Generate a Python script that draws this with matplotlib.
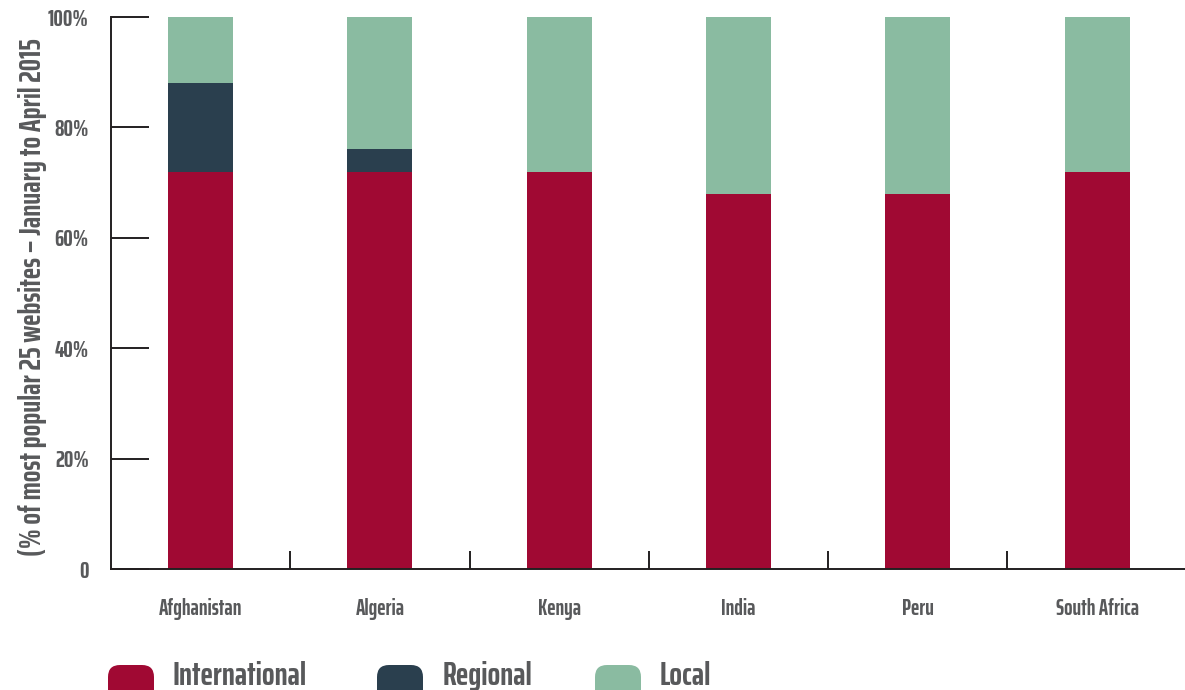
import matplotlib
matplotlib.use("Agg")
import matplotlib.pyplot as plt
import numpy as np
from matplotlib.patches import FancyBboxPatch

# share of the 25 most popular websites, Jan-Apr 2015
countries = ["Afghanistan", "Algeria", "Kenya", "India", "Peru", "South Africa"]
international = [72, 72, 72, 68, 68, 72]
regional = [16, 4, 0, 0, 0, 0]
local = [12, 24, 28, 32, 32, 28]

series = ["International", "Regional", "Local"]
colors = ["#A00933", "#2A3F4E", "#8ABBA1"]
grey = "#58595B"
font = "Saira ExtraCondensed"

plt.rcParams["font.family"] = [font, "DejaVu Sans"]
plt.rcParams["font.weight"] = "bold"

fig = plt.figure(figsize=(11.85, 6.9), dpi=100)
ax = fig.add_axes([111 / 1185, 1 - 569 / 690, 1 - 111 / 1185, (569 - 17) / 690])

x = np.arange(len(countries))
w = 0.362
bottom = np.zeros(len(countries))
for vals, c in zip([international, regional, local], colors):
    ax.bar(x, vals, w, bottom=bottom, color=c, linewidth=0)
    bottom += np.array(vals)

ax.set_xlim(-0.5, 5.49)
ax.set_ylim(0, 100)

for s in ["top", "right"]:
    ax.spines[s].set_visible(False)
for s in ["left", "bottom"]:
    ax.spines[s].set_color("#231F20")
    ax.spines[s].set_linewidth(1.4)

ax.set_yticks([0, 20, 40, 60, 80, 100])
ax.set_yticklabels(["0", "20%", "40%", "60%", "80%", "100%"])
ax.tick_params(axis="y", direction="in", length=27, width=1.4, color="#231F20",
               pad=16, labelsize=17, labelcolor=grey)

ax.set_xticks(x)
ax.set_xticklabels(countries)
ax.tick_params(axis="x", which="major", length=0, pad=21, labelsize=16, labelcolor=grey)
ax.set_xticks(x[:-1] + 0.5, minor=True)
ax.tick_params(axis="x", which="minor", direction="in", length=13, width=1.4, color="#231F20")

ax.set_ylabel("(% of most popular 25 websites – January to April 2015",
              fontsize=22, fontweight="bold", color=grey)
ax.yaxis.set_label_coords(-64 / 1074, 0.493)

# legend: rounded swatches along the bottom edge
for name, c, sx, tx in zip(series, colors, [1.08, 3.77, 5.95], [1.73, 4.43, 6.60]):
    box = FancyBboxPatch((sx + 0.12, -0.20), 0.46 - 0.24, 0.57 - 0.24,
                         boxstyle="round,pad=0.12", transform=fig.dpi_scale_trans,
                         fc=c, ec="none", clip_on=False)
    fig.patches.append(box)
    fig.text(tx / 11.85, 0.05 / 6.9, name, fontsize=24, color=grey, va="baseline")

fig.savefig("out.png")
